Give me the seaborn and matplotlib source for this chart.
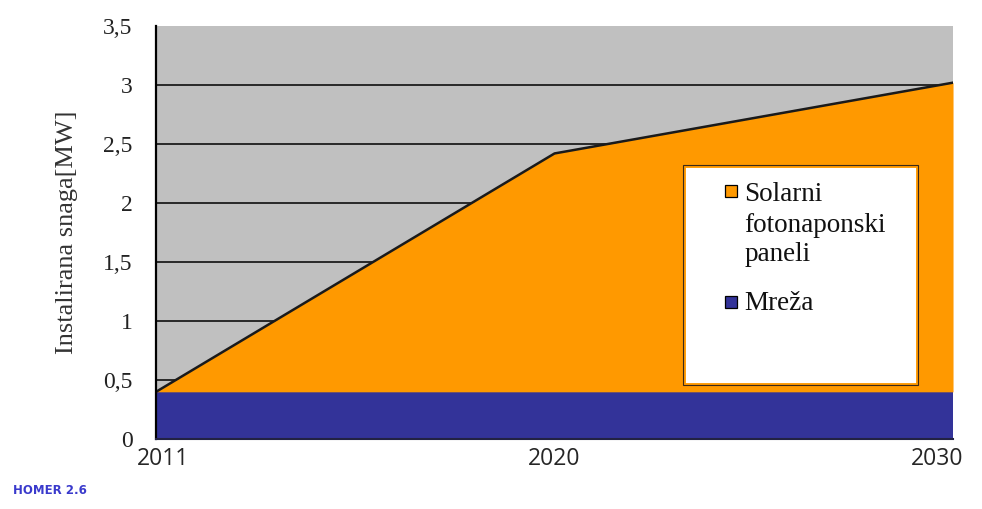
import matplotlib.pyplot as plt
import matplotlib.patches as mpatches
import matplotlib.transforms as mtransforms
import seaborn as sns
import pandas as pd

years = ["2011", "2020", "2030"]
mreza = [0.40, 0.40, 0.40]
solar = [0.00, 2.02, 2.62]
y_ticks = [0, 0.5, 1, 1.5, 2, 2.5, 3, 3.5]
y_labels = ["0", "0,5", "1", "1,5", "2", "2,5", "3", "3,5"]
legend_lines = ["Solarni", "fotonaponski", "paneli", "Mreža"]

ORANGE = "#FF9900"
BLUE = "#333399"
GRAY = "#C0C0C0"

sns.set_style("white")
plt.rcParams['font.family'] = ['Liberation Serif', 'DejaVu Serif']

df = pd.DataFrame({"year": years, "Mreža": mreza, "Solar": solar})
df["pos"] = range(len(df))
df["total"] = df["Mreža"] + df["Solar"]

fig = plt.figure(figsize=(9.82, 5.09), dpi=100)
ax = fig.add_axes([0.1589, 0.1375, 0.8116, 0.8114])
ax.set_facecolor(GRAY)

# gridlines sit behind the areas
for t in y_ticks[1:-1]:
    ax.axhline(t, color="black", lw=1.1, zorder=0.5)

ax.stackplot(df["pos"], df["Mreža"], df["Solar"], colors=[BLUE, ORANGE],
             zorder=1, linewidth=0)
sns.lineplot(data=df, x="pos", y="total", color="#1a1a1a", lw=1.8, ax=ax, zorder=2)

ax.set_xlim(0, 2)
ax.set_ylim(0, 3.5)
ax.set_yticks(y_ticks)
ax.set_yticklabels(y_labels, fontsize=17, color="#222222")
ax.set_xticks(df["pos"])
ax.set_xticklabels(years, fontsize=16.5, family=["Open Sans", "DejaVu Sans"])
ax.tick_params(axis="y", direction="out", length=10, width=1.1, color="black", pad=7)
ax.tick_params(axis="x", length=0, pad=6)
shifts = [7, 0, 10]
for lab, ha, dx in zip(ax.get_xticklabels(), ["center", "center", "right"], shifts):
    lab.set_ha(ha)
    lab.set_transform(lab.get_transform() +
                      mtransforms.ScaledTranslation(dx / 100, 0, fig.dpi_scale_trans))
ax.set_xlabel("")
ax.set_ylabel("Instalirana snaga[MW]", fontsize=19, labelpad=18, color="#333333")

for side in ["top", "right"]:
    ax.spines[side].set_visible(False)
ax.spines["left"].set_color("black")
ax.spines["left"].set_linewidth(1.6)
ax.spines["bottom"].set_color("#222244")
ax.spines["bottom"].set_linewidth(1.5)

# legend box
box = mpatches.Rectangle((0.661, 0.131), 0.295, 0.532, transform=ax.transAxes,
                         facecolor="white", edgecolor=ORANGE, lw=3.5, zorder=3)
ax.add_patch(box)
inner = mpatches.Rectangle((0.661, 0.131), 0.295, 0.532, transform=ax.transAxes,
                           facecolor="none", edgecolor="#3a2a1a", lw=0.8, zorder=3.1)
ax.add_patch(inner)

ys = [0.593, 0.517, 0.447, 0.327]
for txt, y in zip(legend_lines, ys):
    ax.text(0.738, y, txt, transform=ax.transAxes, fontsize=19.5, va="center",
            ha="left", zorder=4, color="#111111")
for col, hy in [(ORANGE, 0.600), (BLUE, 0.332)]:
    ax.add_patch(mpatches.Rectangle((0.714, hy - 0.0145), 0.015, 0.029,
                                    transform=ax.transAxes, facecolor=col,
                                    edgecolor="black", lw=0.9, zorder=4))

fig.text(0.013, 0.03, "HOMER 2.6", color="#3a3acc", fontsize=8.5, fontweight="bold",
         family=["DejaVu Sans"])

fig.savefig("out.png", dpi=100)
